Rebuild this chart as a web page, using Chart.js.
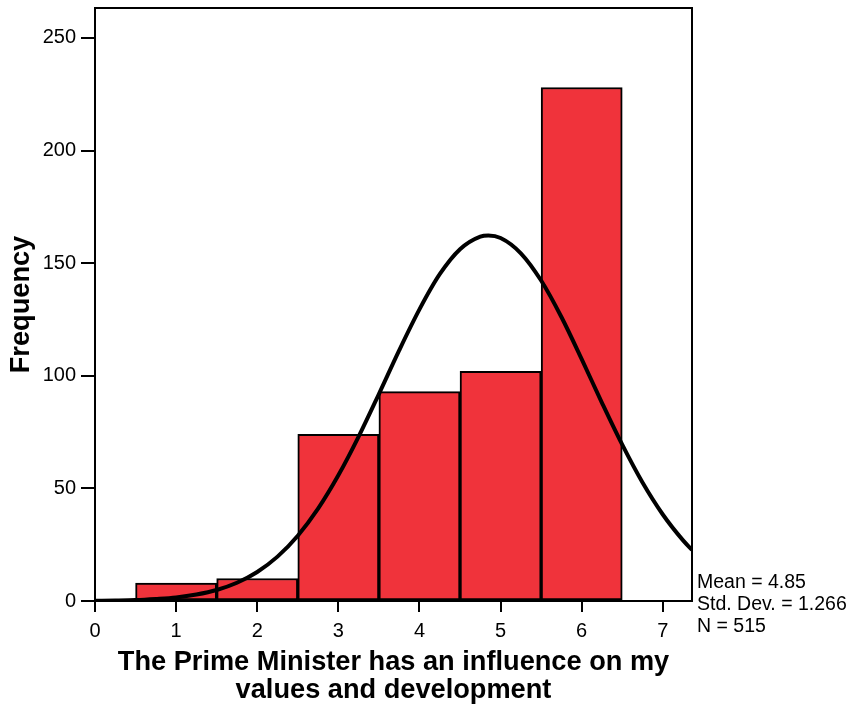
<!DOCTYPE html>
<html>
<head>
<meta charset="utf-8">
<script src="https://cdn.jsdelivr.net/npm/chart.js@4.4.1/dist/chart.umd.min.js"></script>
<style>
  html, body { margin: 0; padding: 0; background: #ffffff; }
  canvas { display: block; }
</style>
</head>
<body>
<canvas id="hist" width="853" height="706"></canvas>
<script>
// Histogram bins (scale values) and their frequencies
const binCenters = [1, 2, 3, 4, 5, 6];
const frequencies = [8, 10, 74, 93, 102, 228];

// Fitted normal curve, sampled along the x axis
const curveX = [0, 0.25, 0.5, 0.75, 1, 1.25, 1.5, 1.75, 2, 2.25, 2.5, 2.75, 3, 3.25, 3.5, 3.75,
                4, 4.25, 4.5, 4.75, 4.85, 5, 5.25, 5.5, 5.75, 6, 6.25, 6.5, 6.75, 7, 7.25, 7.36];
const curveY = [0.1, 0.2, 0.4, 0.9, 1.6, 2.9, 4.9, 8.1, 12.9, 19.7, 29.0, 41.0, 55.8, 73.0, 91.9, 111.3,
                129.5, 145.1, 156.2, 161.8, 162.3, 161.2, 154.4, 142.3, 126.1, 107.4, 88.0, 69.4, 52.6, 38.4, 26.9, 22.7];

// Axis ticks
const xTickValues = [0, 1, 2, 3, 4, 5, 6, 7];
const yTickValues = [0, 50, 100, 150, 200, 250];

// Summary statistics shown beside the plot
const statLines = ['Mean = 4.85', 'Std. Dev. = 1.266', 'N = 515'];

const FONT = '"Liberation Sans", Arial, sans-serif';

const framePlugin = {
  id: 'frame',
  afterDatasetsDraw(chart) {
    const { ctx, chartArea: a } = chart;
    ctx.save();
    ctx.strokeStyle = '#000';
    ctx.lineWidth = 2;
    ctx.strokeRect(a.left, a.top, a.right - a.left, a.bottom - a.top);
    ctx.restore();
  }
};

const statsPlugin = {
  id: 'stats',
  afterDraw(chart) {
    const { ctx, chartArea: a } = chart;
    ctx.save();
    ctx.fillStyle = '#000';
    ctx.font = '19.5px ' + FONT;
    ctx.textAlign = 'left';
    ctx.textBaseline = 'alphabetic';
    statLines.forEach((t, i) => ctx.fillText(t, a.right + 5, a.bottom - 13 + i * 22));
    ctx.restore();
  }
};

new Chart(document.getElementById('hist'), {
  data: {
    datasets: [
      {
        type: 'line',
        data: curveX.map((x, i) => ({ x, y: curveY[i] })),
        borderColor: '#000',
        borderWidth: 4,
        pointRadius: 0,
        cubicInterpolationMode: 'monotone',
        fill: false,
        order: 0
      },
      {
        type: 'bar',
        data: binCenters.map((x, i) => ({ x, y: frequencies[i] })),
        backgroundColor: '#f0333b',
        borderColor: '#000',
        borderWidth: 2,
        borderSkipped: false,
        barPercentage: 1,
        categoryPercentage: 1,
        grouped: false,
        order: 1
      }
    ]
  },
  options: {
    responsive: false,
    animation: false,
    layout: { padding: { top: 8, right: 161, left: 0, bottom: 0 } },
    plugins: { legend: { display: false }, tooltip: { enabled: false } },
    scales: {
      x: {
        type: 'linear',
        min: 0,
        max: 7.36,
        offset: false,
        afterBuildTicks(s) { s.ticks = xTickValues.map(v => ({ value: v })); },
        afterFit(s) { s.height = 105; s.paddingLeft = 0; s.paddingRight = 0; },
        border: { display: false },
        grid: { drawOnChartArea: false, drawTicks: true, tickLength: 11, color: '#000', lineWidth: 2, offset: false },
        ticks: { color: '#000', font: { family: FONT, size: 20 }, padding: 7, maxRotation: 0 },
        title: {
          display: true,
          text: ['The Prime Minister has an influence on my', 'values and development'],
          color: '#000',
          font: { family: FONT, size: 27.2, weight: 'bold', lineHeight: 1.03 },
          padding: { top: 0, bottom: 1 }
        }
      },
      y: {
        type: 'linear',
        min: 0,
        max: 263.3,
        afterBuildTicks(s) { s.ticks = yTickValues.map(v => ({ value: v })); },
        afterFit(s) { s.width = 95; s.paddingTop = 0; s.paddingBottom = 0; },
        border: { display: false },
        grid: { drawOnChartArea: false, drawTicks: true, tickLength: 14, color: '#000', lineWidth: 2 },
        ticks: { color: '#000', font: { family: FONT, size: 20 }, padding: 5 },
        title: {
          display: true,
          text: 'Frequency',
          color: '#000',
          font: { family: FONT, size: 27.2, weight: 'bold', lineHeight: 1.0 },
          padding: { top: 8, bottom: 0 }
        }
      }
    }
  },
  plugins: [framePlugin, statsPlugin]
});
</script>
</body>
</html>
